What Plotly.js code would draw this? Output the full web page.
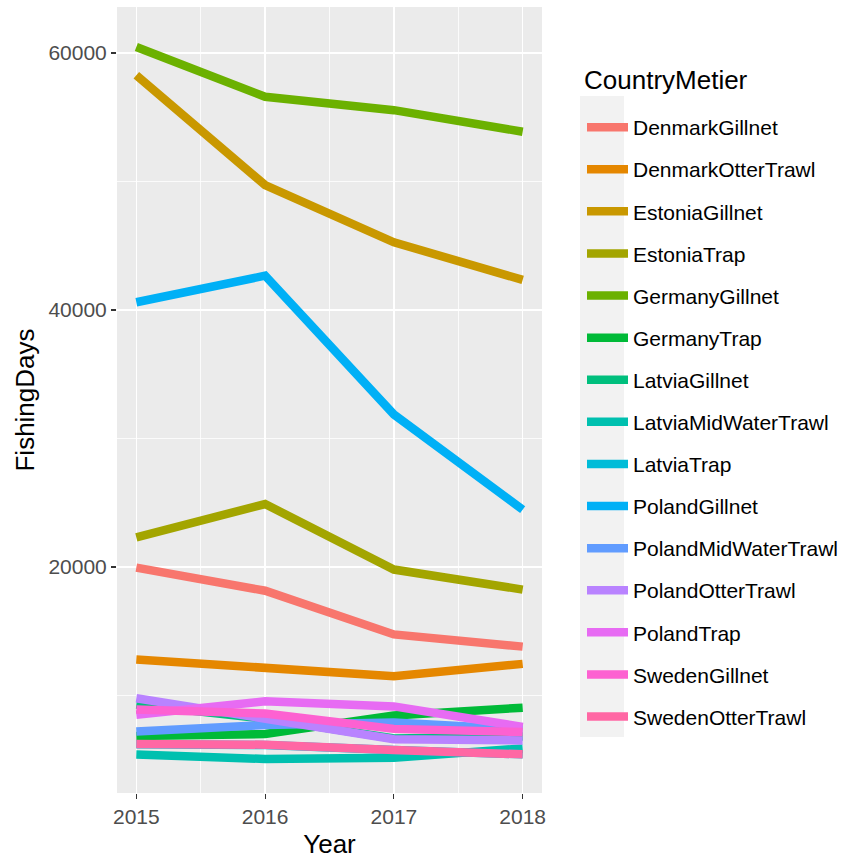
<!DOCTYPE html>
<html>
<head>
<meta charset="utf-8">
<script src="https://cdn.plot.ly/plotly-3.0.1.min.js"></script>
<style>html,body{margin:0;padding:0;background:#fff;}#chart{width:853px;height:863px;}</style>
</head>
<body>
<div id="chart"></div>
<script>
// ---- data ----
const years = [2015, 2016, 2017, 2018];
const seriesNames = ["DenmarkGillnet","DenmarkOtterTrawl","EstoniaGillnet","EstoniaTrap","GermanyGillnet","GermanyTrap","LatviaGillnet","LatviaMidWaterTrawl","LatviaTrap","PolandGillnet","PolandMidWaterTrawl","PolandOtterTrawl","PolandTrap","SwedenGillnet","SwedenOtterTrawl"];
const DenmarkGillnet      = [19950, 18150, 14750, 13800];
const DenmarkOtterTrawl   = [12800, 12150, 11500, 12460];
const EstoniaGillnet      = [58270, 49720, 45270, 42340];
const EstoniaTrap         = [22310, 24900, 19800, 18240];
const GermanyGillnet      = [60470, 56590, 55550, 53870];
const GermanyTrap         = [6850, 7000, 8450, 9050];
const LatviaGillnet       = [9300, 8200, 6650, 6800];
const LatviaMidWaterTrawl = [5400, 5060, 5150, 5880];
const LatviaTrap          = [6200, 6150, 5750, 5420];
const PolandGillnet       = [40600, 42670, 31870, 24460];
const PolandMidWaterTrawl = [7200, 7700, 7900, 7350];
const PolandOtterTrawl    = [9780, 8200, 6600, 6500];
const PolandTrap          = [8500, 9550, 9150, 7550];
const SwedenGillnet       = [8900, 8600, 7400, 7150];
const SwedenOtterTrawl    = [6230, 6170, 5760, 5420];
const seriesValues = [DenmarkGillnet, DenmarkOtterTrawl, EstoniaGillnet, EstoniaTrap, GermanyGillnet, GermanyTrap, LatviaGillnet, LatviaMidWaterTrawl, LatviaTrap, PolandGillnet, PolandMidWaterTrawl, PolandOtterTrawl, PolandTrap, SwedenGillnet, SwedenOtterTrawl];
const colors = ["#F8766D","#E58700","#C99800","#A3A500","#6BB100","#00BA38","#00BF7D","#00C0AF","#00BCD8","#00B0F6","#619CFF","#B983FF","#E76BF3","#FD61D1","#FF67A4"];
const xTicks = [2015, 2016, 2017, 2018];
const yTicks = [20000, 40000, 60000];
const legendTitle = 'CountryMetier';

const traces = seriesNames.map((n, i) => ({
  type: 'scatter', mode: 'lines', name: n, legendgroup: n,
  x: years, y: seriesValues[i],
  line: {color: colors[i], width: 8.5},
  hoverinfo: 'skip'
}));

const L = 117, R = 542, T = 7, B = 793;
const pw = R - L, ph = B - T;
const px = v => (v - L) / pw;
const py = v => (B - v) / ph;
const FONT = 'Arial, "Liberation Sans", sans-serif';

const layout = {
  width: 853, height: 863,
  margin: {l: L, r: 853 - R, t: T, b: 863 - B, pad: 0},
  paper_bgcolor: '#ffffff',
  plot_bgcolor: '#EBEBEB',
  font: {family: FONT, color: '#4D4D4D'},
  showlegend: true,
  xaxis: {
    range: [2014.85, 2018.15],
    tickvals: xTicks, ticktext: xTicks.map(String),
    ticks: 'outside', ticklen: 5, tickwidth: 1.1, tickcolor: '#333333',
    tickfont: {size: 21, color: '#4D4D4D'},
    showgrid: true, gridcolor: '#FFFFFF', gridwidth: 1.6,
    minor: {dtick: 0.5, tick0: 2015.5, showgrid: true, gridcolor: '#FFFFFF', gridwidth: 0.8, ticks: ''},
    zeroline: false, showline: false,
    title: {text: 'Year', font: {size: 26, color: '#000000'}, standoff: 7}
  },
  yaxis: {
    range: [2410, 63580],
    tickvals: yTicks, ticktext: yTicks.map(String),
    ticks: 'outside', ticklen: 5, tickwidth: 1.1, tickcolor: '#333333',
    tickfont: {size: 21, color: '#4D4D4D'},
    showgrid: true, gridcolor: '#FFFFFF', gridwidth: 1.6,
    minor: {dtick: 10000, tick0: 0, showgrid: true, gridcolor: '#FFFFFF', gridwidth: 0.8, ticks: ''},
    zeroline: false, showline: false,
    title: {text: 'FishingDays', font: {size: 26, color: '#000000'}, standoff: 6}
  },
  legend: {
    x: px(582), xanchor: 'left', y: py(107), yanchor: 'top',
    bgcolor: 'rgba(0,0,0,0)', borderwidth: 0,
    font: {size: 21, color: '#000000'},
    itemwidth: 41,
    traceorder: 'grouped', tracegroupgap: 11.8,
    itemclick: false, itemdoubleclick: false
  },
  annotations: [{
    text: legendTitle, xref: 'paper', yref: 'paper',
    x: px(582), y: py(80), xanchor: 'left', yanchor: 'middle',
    showarrow: false, font: {size: 26, color: '#000000', family: FONT}
  }],
  shapes: [{
    type: 'rect', xref: 'paper', yref: 'paper', layer: 'below',
    x0: px(580), x1: px(624), y0: py(737), y1: py(96),
    fillcolor: '#F2F2F2', line: {width: 0}
  }]
};

Plotly.newPlot('chart', traces, layout, {staticPlot: true, displayModeBar: false});
</script>
</body>
</html>
